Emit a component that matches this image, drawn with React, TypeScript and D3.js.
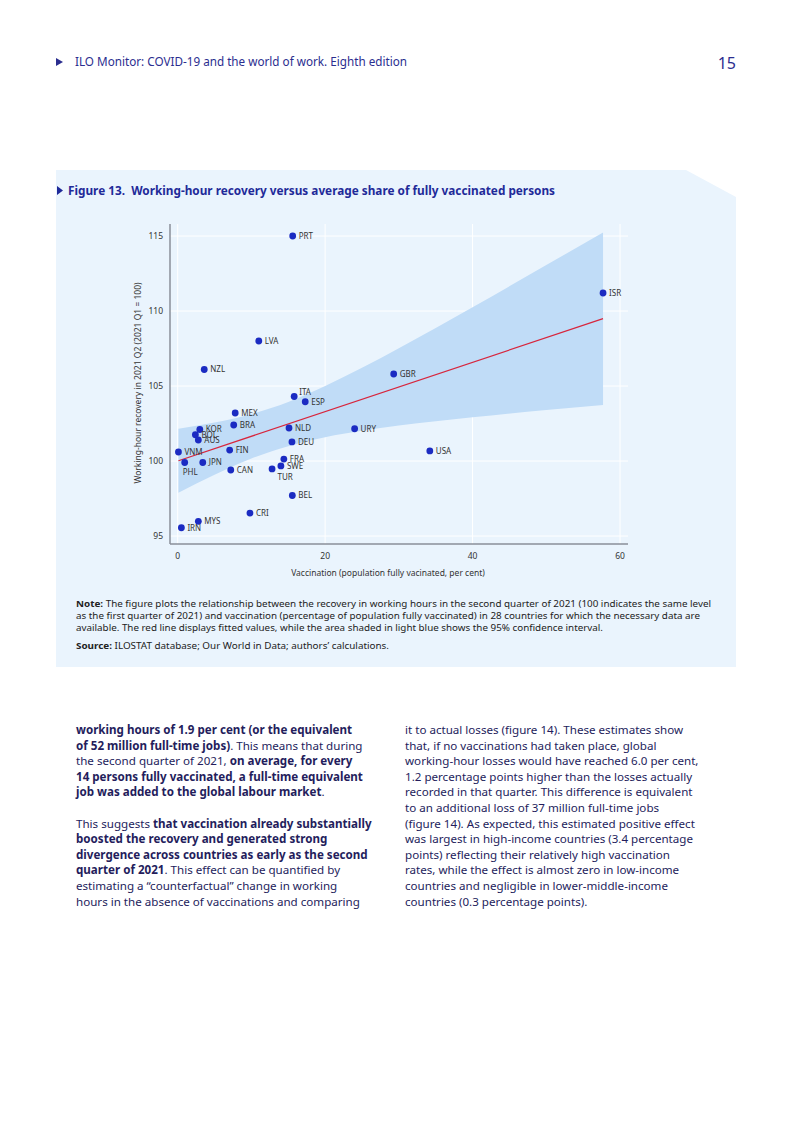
import React from "react";
import * as d3 from "d3";

// Figure 13 data
const countries = [
  "PRT", "ISR", "LVA", "NZL", "GBR", "ITA", "ESP", "MEX", "BRA", "KOR",
  "BOL", "AUS", "VNM", "PHL", "JPN", "FIN", "CAN", "NLD", "DEU", "FRA",
  "SWE", "TUR", "BEL", "CRI", "MYS", "IRN", "URY", "USA",
];
const vaccination = [
  15.6, 57.7, 11.0, 3.6, 29.3, 15.8, 17.3, 7.8, 7.6, 3.0,
  2.4, 2.8, 0.1, 0.95, 3.4, 7.05, 7.2, 15.1, 15.5, 14.4,
  14.0, 12.8, 15.55, 9.8, 2.8, 0.5, 24.0, 34.2,
];
const recovery = [
  115.0, 111.2, 108.0, 106.1, 105.8, 104.3, 103.95, 103.2, 102.4, 102.1,
  101.75, 101.4, 100.6, 99.9, 99.9, 100.73, 99.4, 102.2, 101.27, 100.13,
  99.67, 99.47, 97.7, 96.53, 95.98, 95.55, 102.15, 100.67,
];

// fitted values and 95% confidence band
const fitX = [0.1, 57.7];
const fitY = [100.02, 109.49];
const bandX = [0.1, 5, 10, 15, 20, 25, 30, 40, 50, 57.7];
const bandUpper = [102.15, 102.56, 103.14, 103.94, 105.0, 106.21, 107.52, 110.25, 113.06, 115.24];
const bandLower = [97.89, 99.08, 100.16, 100.99, 101.59, 102.01, 102.36, 102.91, 103.4, 103.74];

const xTicks = [0, 20, 40, 60];
const yTicks = [95, 100, 105, 110, 115];

// labels that do not sit to the right of their dot
const labelOffset: Record<string, [number, number]> = {
  PHL: [-2, 10],
  TUR: [5.5, 8.5],
  ITA: [5, -4],
};

const noteLines = [
  "The figure plots the relationship between the recovery in working hours in the second quarter of 2021 (100 indicates the same level",
  "as the first quarter of 2021) and vaccination (percentage of population fully vaccinated) in 28 countries for which the necessary data are",
  "available. The red line displays fitted values, while the area shaded in light blue shows the 95% confidence interval.",
];

type Run = [string, boolean];
const leftColumn: Run[][] = [
  [["working hours of 1.9 per cent (or the equivalent", true]],
  [["of 52 million full-time jobs)", true], [". This means that during", false]],
  [["the second quarter of 2021, ", false], ["on average, for every", true]],
  [["14 persons fully vaccinated, a full-time equivalent", true]],
  [["job was added to the global labour market", true], [".", false]],
  [],
  [["This suggests ", false], ["that vaccination already substantially", true]],
  [["boosted the recovery and generated strong", true]],
  [["divergence across countries as early as the second", true]],
  [["quarter of 2021", true], [". This effect can be quantified by", false]],
  [["estimating a \u201ccounterfactual\u201d change in working", false]],
  [["hours in the absence of vaccinations and comparing", false]],
];
const rightColumn = [
  "it to actual losses (figure 14). These estimates show",
  "that, if no vaccinations had taken place, global",
  "working-hour losses would have reached 6.0 per cent,",
  "1.2 percentage points higher than the losses actually",
  "recorded in that quarter. This difference is equivalent",
  "to an additional loss of 37 million full-time jobs",
  "(figure 14). As expected, this estimated positive effect",
  "was largest in high-income countries (3.4 percentage",
  "points) reflecting their relatively high vaccination",
  "rates, while the effect is almost zero in low-income",
  "countries and negligible in lower-middle-income",
  "countries (0.3 percentage points).",
];

const FONT = "'Noto Sans', 'Open Sans', sans-serif";
const BODY_COLOR = "#241d5c";

const App: React.FC = () => {
  const plotLeft = 170;
  const plotRight = 628;
  const plotTop = 224;
  const plotBottom = 544;

  const x = d3.scaleLinear().domain([0, 60]).range([177.7, 620]);
  const y = d3.scaleLinear().domain([95, 115]).range([536, 236]);

  const band = d3
    .area<number>()
    .x((_, i) => x(bandX[i]))
    .y0((_, i) => y(bandLower[i]))
    .y1((_, i) => y(bandUpper[i]))
    .curve(d3.curveMonotoneX);

  const fit = d3
    .line<number>()
    .x((_, i) => x(fitX[i]))
    .y((d) => y(d));

  return (
    <div style={{ position: "absolute", left: 0, top: 0 }}>
      <svg width={793} height={1122} style={{ display: "block", background: "#fff" }}>
        {/* running header */}
        <path d="M56,58 L63,62 L56,66 Z" fill="#2b2e8f" />
        <text x={75} y={66} fontFamily={FONT} fontSize={12} fill="#2b2e8f" textLength={332} lengthAdjust="spacingAndGlyphs">
          ILO Monitor: COVID-19 and the world of work. Eighth edition
        </text>
        <text x={736} y={69} textAnchor="end" fontFamily={FONT} fontSize={16} fill="#2b2e8f">
          15
        </text>

        {/* figure panel */}
        <path d="M56,170 L686,170 L736,197 L736,667 L56,667 Z" fill="#eaf4fd" />
        <path d="M57,186 L63,190.5 L57,195 Z" fill="#1f2a99" />
        <text x={68} y={195} fontFamily={FONT} fontSize={12.5} fontWeight="bold" fill="#1f2a99" textLength={487} lengthAdjust="spacingAndGlyphs">
          Figure 13.{"\u00a0\u00a0"}Working-hour recovery versus average share of fully vaccinated persons
        </text>

        {/* grid */}
        <g stroke="#ffffff" strokeWidth={1}>
          {xTicks.map((t) => (
            <line key={"gx" + t} x1={x(t)} x2={x(t)} y1={plotTop} y2={plotBottom} />
          ))}
          {yTicks.map((t) => (
            <line key={"gy" + t} x1={plotLeft} x2={plotRight} y1={y(t)} y2={y(t)} />
          ))}
        </g>

        {/* confidence band and fitted line */}
        <path d={band(bandX) ?? ""} fill="#c0dcf7" />
        <path d={fit(fitY) ?? ""} fill="none" stroke="#d7263d" strokeWidth={1.2} />

        {/* axes */}
        <line x1={plotLeft} x2={plotLeft} y1={plotTop} y2={plotBottom} stroke="#8a8f99" strokeWidth={1.5} />
        <line x1={plotLeft} x2={plotRight} y1={plotBottom} y2={plotBottom} stroke="#8a8f99" strokeWidth={1.5} />

        <g fontFamily={FONT} fontSize={8.5} fill="#333">
          {yTicks.map((t) => (
            <text key={"ty" + t} x={163} y={y(t) + 3} textAnchor="end">
              {t}
            </text>
          ))}
          {xTicks.map((t) => (
            <text key={"tx" + t} x={x(t)} y={559} textAnchor="middle">
              {t}
            </text>
          ))}
          <text x={388} y={576} textAnchor="middle">
            Vaccination (population fully vacinated, per cent)
          </text>
          <text transform="translate(141,383) rotate(-90)" textAnchor="middle">
            Working-hour recovery in 2021 Q2 (2021 Q1 = 100)
          </text>
        </g>

        {/* points */}
        <g>
          {countries.map((c, i) => {
            const cx = x(vaccination[i]);
            const cy = y(recovery[i]);
            const off = labelOffset[c] ?? [6, 0];
            return (
              <g key={c}>
                <circle cx={cx} cy={cy} r={3.4} fill="#1b2bc2" />
                <text x={cx + off[0]} y={cy + off[1] + 2.9} fontFamily={FONT} fontSize={8} fill="#333">
                  {c}
                </text>
              </g>
            );
          })}
        </g>

        {/* note and source */}
        <g fontFamily={FONT} fontSize={9.5} fill="#222">
          <text x={76} y={607} textLength={635} lengthAdjust="spacingAndGlyphs">
            <tspan fontWeight="bold">Note:</tspan> {noteLines[0]}
          </text>
          <text x={76} y={619} textLength={624} lengthAdjust="spacingAndGlyphs">
            {noteLines[1]}
          </text>
          <text x={76} y={631} textLength={527} lengthAdjust="spacingAndGlyphs">
            {noteLines[2]}
          </text>
          <text x={76} y={649} textLength={313} lengthAdjust="spacingAndGlyphs">
            <tspan fontWeight="bold">Source:</tspan> ILOSTAT database; Our World in Data; authors’ calculations.
          </text>
        </g>

        {/* body text */}
        <g fontFamily={FONT} fontSize={11.6} fill={BODY_COLOR}>
          {leftColumn.map((runs, i) => (
            <text key={"l" + i} x={76} y={734 + i * 15.6} xmlSpace="preserve">
              {runs.map(([s, b], j) => (
                <tspan key={j} fontWeight={b ? "bold" : "normal"}>
                  {s}
                </tspan>
              ))}
            </text>
          ))}
          {rightColumn.map((s, i) => (
            <text key={"r" + i} x={405} y={734 + i * 15.6}>
              {s}
            </text>
          ))}
        </g>
      </svg>
    </div>
  );
};

export default App;
